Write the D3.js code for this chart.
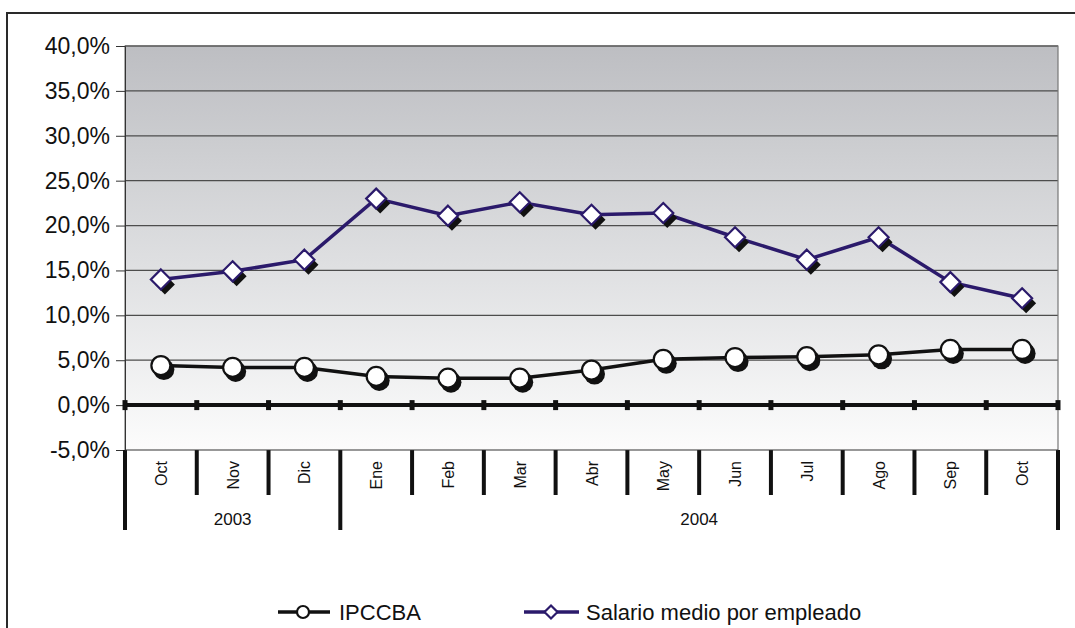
<!DOCTYPE html>
<html><head><meta charset="utf-8">
<script src="https://cdn.jsdelivr.net/npm/d3@7"></script>
<style>body{margin:0;background:#fff}svg{display:block}text{font-family:"Liberation Sans",Arial,sans-serif}</style>
</head><body><svg id="c" width="1075" height="628"></svg>
<script>
const months = ["Oct","Nov","Dic","Ene","Feb","Mar","Abr","May","Jun","Jul","Ago","Sep","Oct"];
const yearLabels = ["2003","2004"];
const yearSpans = [3,10];
const ipccba = [4.4,4.2,4.2,3.2,3.0,3.0,3.9,5.1,5.3,5.4,5.6,6.2,6.2];
const salario = [14.0,14.9,16.2,23.0,21.1,22.6,21.2,21.4,18.7,16.2,18.7,13.7,11.9];
const yTicks = [-5,0,5,10,15,20,25,30,35,40];
const seriesNames = ["IPCCBA","Salario medio por empleado"];

const svg = d3.select("#c");
const L=125,R=1058,T=46,B=450;
const x = d3.scaleBand().domain(months.map((d,i)=>i)).range([L,R]).padding(0);
const y = d3.scaleLinear().domain([-5,40]).range([B,T]);
const loc = d3.formatLocale({decimal:",",thousands:".",grouping:[3],currency:["","€"],minus:"-"});
const fmt = v => loc.format(".1f")(v)+"%";

// outer frame
svg.append("path").attr("d","M7,640 V13 H1080").attr("fill","none").attr("stroke","#2a2a2a").attr("stroke-width",2);

const defs = svg.append("defs");
const g = defs.append("linearGradient").attr("id","bg").attr("x1",0).attr("y1",0).attr("x2",0).attr("y2",1);
g.append("stop").attr("offset","0%").attr("stop-color","#bdbec2");
g.append("stop").attr("offset","55%").attr("stop-color","#dfe0e2");
g.append("stop").attr("offset","100%").attr("stop-color","#fcfcfc");
svg.append("rect").attr("x",L).attr("y",T).attr("width",R-L).attr("height",B-T).attr("fill","url(#bg)");

// grid
svg.append("g").selectAll("line").data(yTicks.filter(v=>v>-5&&v!==0)).join("line")
 .attr("x1",L).attr("x2",R).attr("y1",d=>y(d)).attr("y2",d=>y(d))
 .attr("stroke","#4d4d4d").attr("stroke-width",1.3);
// plot border
svg.append("path").attr("d",`M${L},${B} V${T} H${R} V${B}`).attr("fill","none").attr("stroke","#777").attr("stroke-width",1.2);

// y axis
const ya = svg.append("g").attr("transform",`translate(${L},0)`)
 .call(d3.axisLeft(y).tickValues(yTicks).tickFormat(fmt).tickSize(9).tickPadding(6));
ya.select(".domain").attr("stroke","#333");
ya.selectAll(".tick line").attr("stroke","#333");
ya.selectAll("text").attr("font-size",23).attr("fill","#111").attr("font-family","Liberation Sans, Arial");

// zero line with ticks
svg.append("line").attr("x1",L).attr("x2",R).attr("y1",y(0)).attr("y2",y(0)).attr("stroke","#111").attr("stroke-width",4);
const bounds = months.map((d,i)=>x(i)).concat([R]);
svg.append("g").selectAll("line").data(bounds).join("line")
 .attr("x1",d=>d).attr("x2",d=>d).attr("y1",y(0)-5).attr("y2",y(0)+5).attr("stroke","#111").attr("stroke-width",5);

// category axis separators
const groupBounds=[0]; yearSpans.forEach((s,i)=>groupBounds.push(groupBounds[i]+s));
svg.append("g").selectAll("line").data(bounds.map((b,i)=>({b,i}))).join("line")
 .attr("x1",d=>d.b).attr("x2",d=>d.b).attr("y1",B)
 .attr("y2",d=>groupBounds.includes(d.i)?530:495)
 .attr("stroke","#111").attr("stroke-width",4);
svg.append("line").attr("x1",L).attr("x2",R).attr("y1",B).attr("y2",B).attr("stroke","#333").attr("stroke-width",1);

// month labels
svg.append("g").selectAll("text").data(months).join("text")
 .attr("transform",(d,i)=>`translate(${x(i)+x.bandwidth()/2+6},461) rotate(-90)`)
 .attr("text-anchor","end").attr("font-size",16).attr("fill","#111").text(d=>d);
// year labels
svg.append("g").selectAll("text").data(yearLabels).join("text")
 .attr("x",(d,i)=>(bounds[groupBounds[i]]+bounds[groupBounds[i+1]])/2)
 .attr("y",525).attr("text-anchor","middle").attr("font-size",17).attr("fill","#111").text(d=>d);

// series
const line = d3.line().x((d,i)=>x(i)+x.bandwidth()/2).y(d=>y(d));
const cx = i=>x(i)+x.bandwidth()/2;
const diamond = (s)=>`M0,${-s}L${s},0L0,${s}L${-s},0Z`;

function series(data,color,type){
  const gg = svg.append("g");
  gg.append("path").datum(data).attr("d",line).attr("fill","none").attr("stroke",color).attr("stroke-width",3.5);
  if(type==="circle"){
    gg.selectAll("circle.s").data(data).join("circle").attr("class","s")
     .attr("cx",(d,i)=>cx(i)+3).attr("cy",d=>y(d)+4).attr("r",10.5).attr("fill","#111");
    gg.selectAll("circle.m").data(data).join("circle").attr("class","m")
     .attr("cx",(d,i)=>cx(i)).attr("cy",d=>y(d)).attr("r",9.5).attr("fill","#fff").attr("stroke","#111").attr("stroke-width",2.2);
  } else {
    gg.selectAll("path.s").data(data).join("path").attr("class","s")
     .attr("transform",(d,i)=>`translate(${cx(i)+4},${y(d)+5})`).attr("d",diamond(10)).attr("fill","#111");
    gg.selectAll("path.m").data(data).join("path").attr("class","m")
     .attr("transform",(d,i)=>`translate(${cx(i)},${y(d)})`).attr("d",diamond(10)).attr("fill","#fff").attr("stroke",color).attr("stroke-width",2.2);
  }
}
series(ipccba,"#111","circle");
series(salario,"#2b1a6b","diamond");

// legend
const lg = svg.append("g");
lg.append("line").attr("x1",278).attr("x2",330).attr("y1",612).attr("y2",612).attr("stroke","#111").attr("stroke-width",3.5);
lg.append("circle").attr("cx",303).attr("cy",612).attr("r",6).attr("fill","#fff").attr("stroke","#111").attr("stroke-width",2.2);
lg.append("text").attr("x",339).attr("y",619.5).attr("font-size",22).attr("fill","#111").text(seriesNames[0]);
lg.append("line").attr("x1",524).attr("x2",579).attr("y1",612).attr("y2",612).attr("stroke","#2b1a6b").attr("stroke-width",3.5);
lg.append("path").attr("transform","translate(551,612)").attr("d",diamond(6.5)).attr("fill","#fff").attr("stroke","#2b1a6b").attr("stroke-width",2.2);
lg.append("text").attr("x",586).attr("y",619.5).attr("font-size",22).attr("fill","#111").text(seriesNames[1]);
</script></body></html>
